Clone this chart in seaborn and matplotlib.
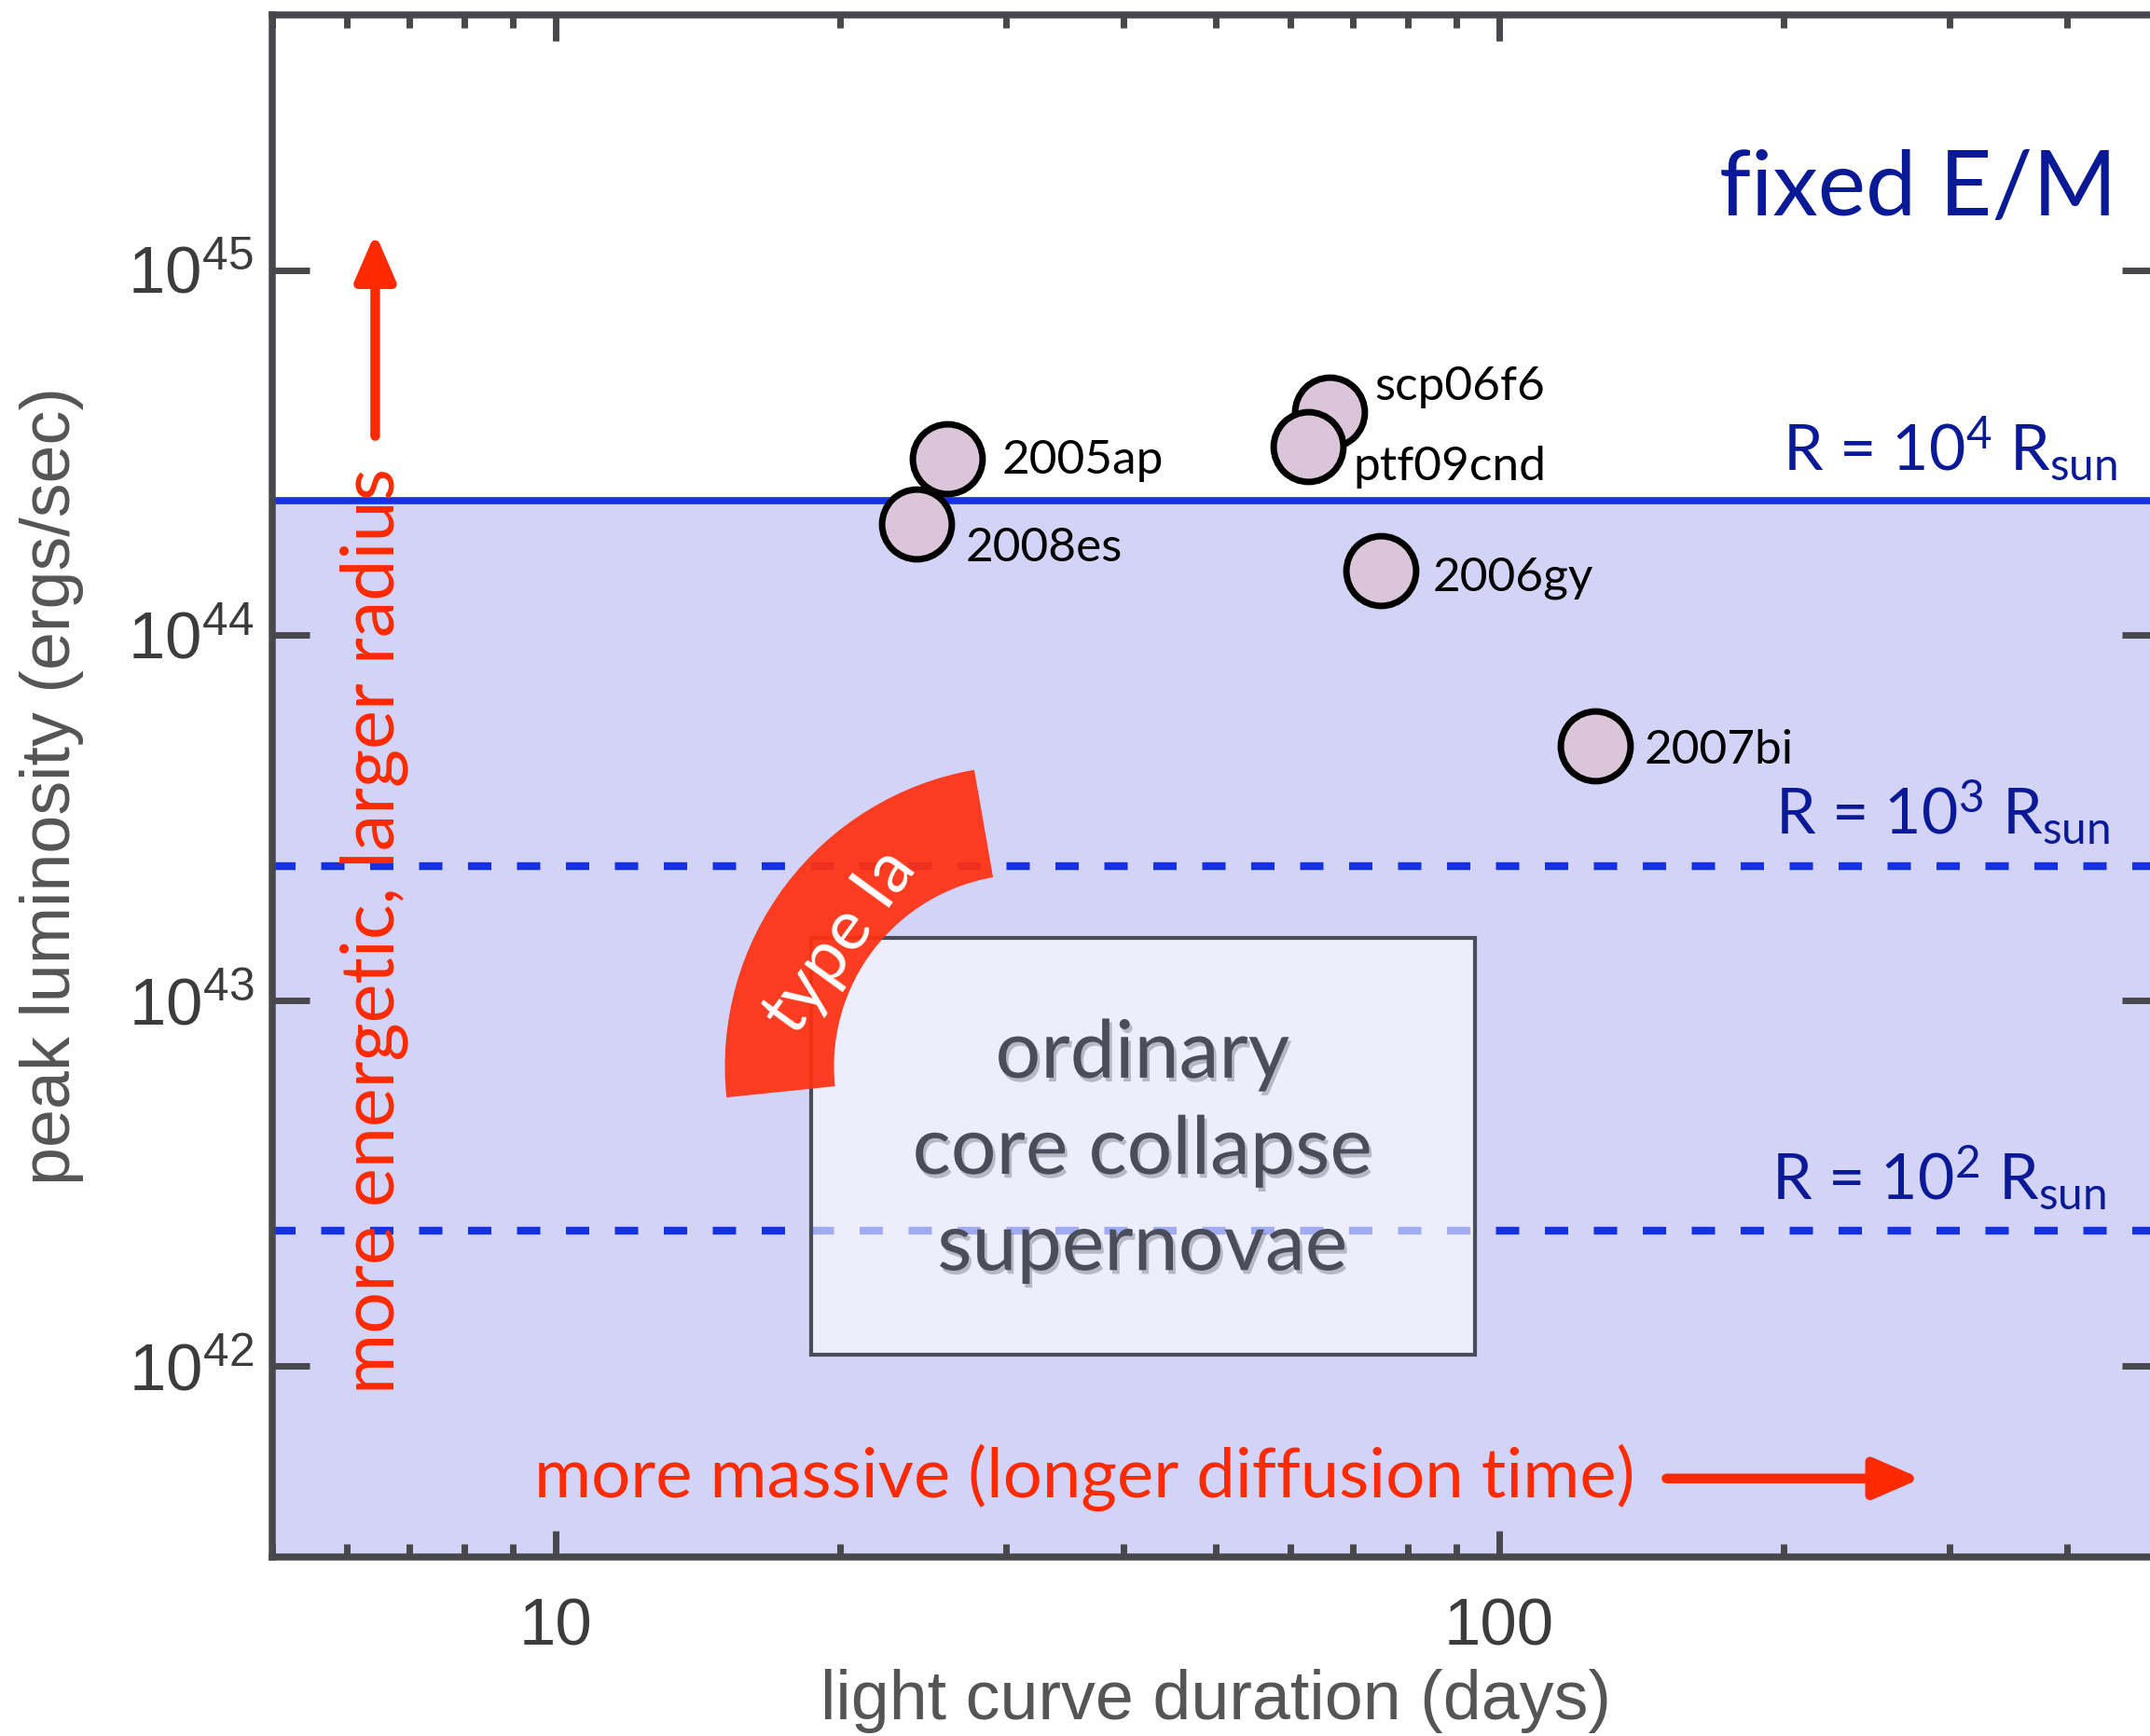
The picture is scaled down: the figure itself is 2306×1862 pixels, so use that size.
import matplotlib
matplotlib.use("Agg")
import matplotlib.pyplot as plt
import matplotlib.ticker as mticker
import matplotlib.transforms as mtransforms
import matplotlib.patheffects as pe
from matplotlib.patches import Wedge, Rectangle
import numpy as np
import pandas as pd
import seaborn as sns

# ---------------- data ----------------
sn_names = ["2008es", "2005ap", "scp06f6", "ptf09cnd", "2006gy", "2007bi"]
duration_days = [24.1, 26.0, 66.1, 62.7, 74.9, 126.4]
peak_luminosity = [2.02e44, 3.04e44, 4.09e44, 3.29e44, 1.50e44, 4.99e43]

radius_exponents = [4, 3, 2]
radius_line_lum = [2.33e44, 2.34e43, 2.34e42]

x_major_ticks = [10, 100]
x_tick_labels = ["10", "100"]
y_major_ticks = [1e42, 1e43, 1e44, 1e45]
x_limits = [5, 500]
y_limits = [3e41, 5e45]

# label offsets (points) for each supernova
label_offsets = {
    "2005ap": (42, -11.5),
    "2008es": (38, -29),
    "scp06f6": (35, 9),
    "ptf09cnd": (35, -26),
    "2006gy": (40, -15),
    "2007bi": (38, -14),
}

df = pd.DataFrame({"name": sn_names, "duration": duration_days, "lum": peak_luminosity})

# ---------------- style ----------------
sns.set_theme(style="white")
plt.rcParams["font.family"] = ["Liberation Sans", "DejaVu Sans"]
plt.rcParams["mathtext.default"] = "regular"

SPINE = "#48484c"
RED = "#ff2a00"
NAVY = "#0a1a96"
BLUE = "#1432e0"
FILL = "#d3d3f8"
ANNOT_FONT = ["Lato", "DejaVu Sans"]

W, H = 2306, 1862
fig = plt.figure(figsize=(W / 100, H / 100), dpi=100)
fig.patch.set_facecolor("white")
ax = fig.add_axes([291.5 / W, 1 - 1670 / H, 2024 / W, (1670 - 15.6) / H])
ax.set_facecolor("white")

ax.set_xscale("log")
ax.set_yscale("log")
ax.set_xlim(*x_limits)
ax.set_ylim(*y_limits)

# shaded region below the R = 1e4 Rsun line
ax.axhspan(y_limits[0], radius_line_lum[0], color=FILL, lw=0, zorder=0)

# radius lines
label_x = [0.978, 0.974, 0.972]
for i, (e, yl) in enumerate(zip(radius_exponents, radius_line_lum)):
    if i == 0:
        ax.axhline(yl, color=BLUE, lw=5.5, zorder=2)
    else:
        ax.axhline(yl, color=BLUE, lw=6, dashes=(3.0, 3.3), zorder=2)
    ax.annotate(
        f"R = 10$^{{\\mathdefault{{{e}}}}}$ R$_{{\\mathdefault{{sun}}}}$",
        xy=(label_x[i], yl), xycoords=("axes fraction", "data"),
        xytext=(0, 24), textcoords="offset points",
        ha="right", va="baseline", fontsize=49, color=NAVY,
        family=ANNOT_FONT, zorder=6,
    )

# ordinary core collapse box
box = Rectangle((0.2856, 0.1314), 0.3518, 0.2702, transform=ax.transAxes,
                facecolor=(1, 1, 1, 0.6), edgecolor="#4a4c58", lw=3, zorder=3)
ax.add_patch(box)
ax.text(0.4615, 0.2629, "ordinary\ncore collapse\nsupernovae", transform=ax.transAxes,
        ha="center", va="center", multialignment="center", fontsize=62,
        color="#4b4d5b", family=ANNOT_FONT, linespacing=1.4, zorder=4,
        path_effects=[pe.SimplePatchShadow(offset=(2, -3), shadow_rgbFace="k", alpha=0.25),
                      pe.Normal()])

# type Ia arc
wedge_tr = fig.dpi_scale_trans + mtransforms.ScaledTranslation(0.3997, 0.318, ax.transAxes)
wedge = Wedge((0, 0), 3.23, 99.9, 185.9, width=1.17, transform=wedge_tr,
              facecolor="#ff3010", edgecolor="none", alpha=0.93, zorder=4)
ax.add_patch(wedge)
ax.text(0.301, 0.399, "type Ia", transform=ax.transAxes, rotation=54,
        ha="center", va="center", rotation_mode="anchor", fontsize=54,
        color="white", family=ANNOT_FONT, zorder=5)

# supernova points
sns.scatterplot(data=df, x="duration", y="lum", ax=ax, s=2900, color="#dac6d8",
                edgecolor="black", linewidth=5, zorder=6, legend=False)
for name, xv, yv in zip(sn_names, duration_days, peak_luminosity):
    dx, dy = label_offsets[name]
    ax.annotate(name, xy=(xv, yv), xytext=(dx, dy), textcoords="offset points",
                ha="left", va="baseline", fontsize=37, color="black",
                family=ANNOT_FONT, zorder=7)

# titles / arrows
ax.text(0.978, 0.8695, "fixed E/M", transform=ax.transAxes, ha="right",
        va="baseline", fontsize=70, color=NAVY, family=ANNOT_FONT, zorder=6)

ax.text(0.0647, 0.106, "more energetic, larger radius", transform=ax.transAxes,
        rotation=90, rotation_mode="anchor", ha="left", va="baseline",
        fontsize=57, color=RED, family=ANNOT_FONT, zorder=6)
ax.annotate("", xy=(0.0548, 0.8583), xytext=(0.0548, 0.7268), xycoords="axes fraction",
            arrowprops=dict(arrowstyle="-|>,head_length=30,head_width=13", color=RED,
                            lw=7.5, mutation_scale=1, shrinkA=0, shrinkB=0), zorder=6)

ax.text(0.1393, 0.0388, "more massive (longer diffusion time)", transform=ax.transAxes,
        ha="left", va="baseline", fontsize=53.5, color=RED, family=ANNOT_FONT, zorder=6)
ax.annotate("", xy=(0.874, 0.0509), xytext=(0.7391, 0.0509), xycoords="axes fraction",
            arrowprops=dict(arrowstyle="-|>,head_length=30,head_width=13", color=RED,
                            lw=7.5, mutation_scale=1, shrinkA=0, shrinkB=0), zorder=6)

# ---------------- axes styling ----------------
for sp in ax.spines.values():
    sp.set_visible(True)
    sp.set_color(SPINE)
    sp.set_linewidth(5.4)
    sp.set_zorder(8)

ax.set_xticks(x_major_ticks)
ax.set_xticklabels(x_tick_labels)
ax.xaxis.set_minor_locator(mticker.LogLocator(base=10, subs=np.arange(2, 10)))
ax.xaxis.set_minor_formatter(mticker.NullFormatter())
ax.set_yticks(y_major_ticks)
ax.yaxis.set_major_formatter(mticker.LogFormatterSciNotation())
ax.yaxis.set_minor_locator(mticker.NullLocator())

ax.tick_params(axis="x", which="major", direction="in", length=20, width=5,
               color=SPINE, top=True, bottom=True, labelsize=51, labelcolor="#3c3c3c", pad=31)
ax.tick_params(axis="x", which="minor", direction="in", length=10, width=5,
               color=SPINE, top=True, bottom=True)
ax.tick_params(axis="y", which="major", direction="in", length=29, width=5,
               color=SPINE, left=True, right=True, labelsize=51, labelcolor="#3c3c3c", pad=14)

ax.set_xlabel("light curve duration (days)", fontsize=53, color="#555555", labelpad=8)
ax.set_ylabel("peak luminosity (ergs/sec)", fontsize=53, color="#555555", labelpad=34)

fig.savefig("out.png", dpi=100, facecolor="white")
